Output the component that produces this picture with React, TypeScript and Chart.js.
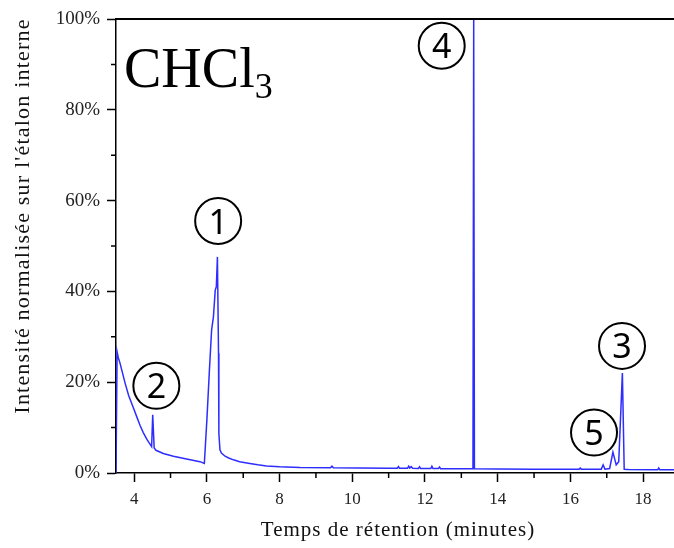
import React, { useEffect, useRef } from "react";
import { Chart, registerables } from "chart.js";

Chart.register(...registerables);

// Retention time (minutes) and normalised intensity (%)
const retentionTimes = [
  3.5, 3.53, 3.56, 3.61, 3.68, 3.75, 3.85, 3.98, 4.08, 4.16, 4.25, 4.35, 4.44, 4.48, 4.51, 4.55,
  4.6, 4.8, 5.08, 5.44, 5.81, 5.93,
  6.0, 6.07, 6.13, 6.18, 6.23, 6.26, 6.29, 6.32, 6.33, 6.36, 6.4, 6.5, 6.6, 6.73, 6.9, 7.18, 7.4,
  7.64, 8.0, 8.56,
  9.4, 9.44, 9.48, 10.2, 11.0, 11.24, 11.27, 11.3, 11.52, 11.55, 11.58, 11.62, 11.66, 11.82, 11.85,
  11.88, 12.16, 12.19, 12.22, 12.37, 12.4, 12.43, 13.0, 13.32, 13.34, 13.36,
  14.0, 15.0, 16.24, 16.27, 16.3, 16.85, 16.9, 16.95, 17.08, 17.17, 17.26, 17.33, 17.43, 17.48,
  17.6, 18.4, 18.43, 18.46, 18.85,
];
const intensities = [
  0, 26.7, 25.5, 24.2, 22.0, 19.8, 17.0, 14.3, 12.2, 10.5, 8.9, 7.4, 6.3, 5.8, 12.8, 5.5,
  5.0, 4.3, 3.7, 3.1, 2.5, 2.1,
  11.7, 22.7, 31.5, 34.4, 40.3, 41.0, 47.6, 26.4, 8.7, 5.1, 4.4, 3.7, 3.3, 2.9, 2.5, 2.1, 1.8,
  1.55, 1.35, 1.2,
  1.15, 1.5, 1.15, 1.1, 1.05, 1.05, 1.4, 1.05, 1.05, 1.5, 1.1, 1.4, 1.05, 1.0, 1.35,
  1.0, 1.0, 1.5, 1.0, 1.0, 1.3, 0.95, 0.95, 0.95, 100, 0.95,
  0.9, 0.85, 0.85, 1.1, 0.85, 0.85, 1.8, 0.85, 1.0, 4.6, 1.8, 2.5, 22.0, 0.8,
  0.75, 0.7, 1.1, 0.7, 0.7,
];

const xMajorTicks = [4, 6, 8, 10, 12, 14, 16, 18];
const xMinorTicks = [5, 7, 9, 11, 13, 15, 17];
const yMajorTicks = [0, 20, 40, 60, 80, 100];
const yMinorTicks = [10, 30, 50, 70, 90];

// Circled peak numbers (data coordinates)
const peakNumbers = ["1", "2", "3", "4", "5"];
const peakLabelTimes = [6.31, 4.61, 17.42, 12.46, 16.65];
const peakLabelIntensities = [55.5, 19.2, 28.0, 94.1, 8.9];

const xTitle = "Temps de rétention (minutes)";
const yTitle = "Intensité normalisée sur l'étalon interne";
const compound = "CHCl";
const compoundSub = "3";

const SERIF = "'Liberation Serif', 'Times New Roman', serif";
const SANS = "'Noto Sans', 'Open Sans', sans-serif";

const decorPlugin = {
  id: "decor",
  afterDraw(chart: any) {
    const ctx = chart.ctx as any;
    const area = chart.chartArea;
    const xs = chart.scales.x;
    const ys = chart.scales.y;
    ctx.save();
    // top frame line
    ctx.strokeStyle = "#000";
    ctx.lineWidth = 2;
    ctx.beginPath();
    ctx.moveTo(area.left - 1, area.top);
    ctx.lineTo(chart.width, area.top);
    ctx.stroke();
    // minor ticks
    ctx.lineWidth = 1.5;
    ctx.beginPath();
    xMinorTicks.forEach((v) => {
      const px = xs.getPixelForValue(v);
      ctx.moveTo(px, area.bottom);
      ctx.lineTo(px, area.bottom + 5);
    });
    yMinorTicks.forEach((v) => {
      const py = ys.getPixelForValue(v);
      ctx.moveTo(area.left - 5, py);
      ctx.lineTo(area.left, py);
    });
    ctx.stroke();

    // compound name
    ctx.fillStyle = "#000";
    ctx.textAlign = "left";
    ctx.textBaseline = "alphabetic";
    ctx.font = `56px ${SERIF}`;
    ctx.fillText(compound, 124, 87);
    const w = ctx.measureText(compound).width;
    ctx.font = `36px ${SERIF}`;
    ctx.fillText(compoundSub, 124 + w, 98);

    // axis titles
    ctx.fillStyle = "#111";
    ctx.textAlign = "center";
    ctx.font = `21px ${SERIF}`;
    ctx.letterSpacing = "1px";
    ctx.fillText(xTitle, 398, 536);
    ctx.save();
    ctx.translate(29, 216);
    ctx.rotate(-Math.PI / 2);
    ctx.font = `22px ${SERIF}`;
    ctx.letterSpacing = "1.2px";
    ctx.fillText(yTitle, 0, 0);
    ctx.restore();
    ctx.letterSpacing = "0px";

    // circled peak numbers
    peakNumbers.forEach((label, i) => {
      const cx = xs.getPixelForValue(peakLabelTimes[i]);
      const cy = ys.getPixelForValue(peakLabelIntensities[i]);
      ctx.beginPath();
      ctx.arc(cx, cy, 23, 0, Math.PI * 2);
      ctx.fillStyle = "#fff";
      ctx.fill();
      ctx.lineWidth = 2;
      ctx.strokeStyle = "#000";
      ctx.stroke();
      ctx.fillStyle = "#000";
      ctx.font = `34px ${SANS}`;
      ctx.textAlign = "center";
      ctx.textBaseline = "alphabetic";
      const m = ctx.measureText(label);
      const asc = m.actualBoundingBoxAscent;
      const desc = m.actualBoundingBoxDescent;
      ctx.fillText(label, cx, cy + (asc - desc) / 2);
    });
    ctx.restore();
  },
};

export default function App() {
  const canvasRef = useRef<HTMLCanvasElement | null>(null);

  useEffect(() => {
    if (!canvasRef.current) return;
    const points = retentionTimes.map((t, i) => ({ x: t, y: intensities[i] }));
    const chart = new Chart(canvasRef.current, {
      type: "line",
      data: {
        datasets: [
          {
            data: points,
            borderColor: "rgb(45,45,255)",
            borderWidth: 1.5,
            pointRadius: 0,
            tension: 0,
            fill: false,
          },
        ],
      },
      options: {
        responsive: false,
        animation: false,
        events: [],
        layout: { padding: { top: 19, left: 0, right: 0, bottom: 0 } },
        plugins: { legend: { display: false }, tooltip: { enabled: false } },
        scales: {
          x: {
            type: "linear",
            min: 3.5,
            max: 18.85,
            afterBuildTicks: (s: any) => {
              s.ticks = xMajorTicks.map((v) => ({ value: v }));
            },
            afterFit: (s: any) => {
              s.height = 75;
            },
            grid: {
              display: true,
              drawOnChartArea: false,
              drawTicks: true,
              tickLength: 9,
              tickWidth: 1.5,
              tickColor: "#000",
              color: "#000",
            },
            border: { display: true, color: "#000", width: 1.5 },
            ticks: {
              font: { family: SERIF, size: 17 },
              color: "#222",
              padding: 7,
              maxRotation: 0,
              autoSkip: false,
            },
          },
          y: {
            type: "linear",
            min: 0,
            max: 100,
            afterBuildTicks: (s: any) => {
              s.ticks = yMajorTicks.map((v) => ({ value: v }));
            },
            afterFit: (s: any) => {
              s.width = 116;
            },
            grid: {
              display: true,
              drawOnChartArea: false,
              drawTicks: true,
              tickLength: 9,
              tickWidth: 1.5,
              tickColor: "#000",
              color: "#000",
            },
            border: { display: true, color: "#000", width: 1.5 },
            ticks: {
              font: { family: SERIF, size: 19 },
              color: "#222",
              padding: 7,
              autoSkip: false,
              callback: (v: any) => `${v}%`,
            },
          },
        },
      },
      plugins: [decorPlugin],
    });
    return () => chart.destroy();
  }, []);

  return (
    <div style={{ position: "absolute", left: 0, top: 0, width: 674, height: 548, background: "#fff" }}>
      <canvas ref={canvasRef} width={674} height={548} style={{ display: "block" }} />
    </div>
  );
}
